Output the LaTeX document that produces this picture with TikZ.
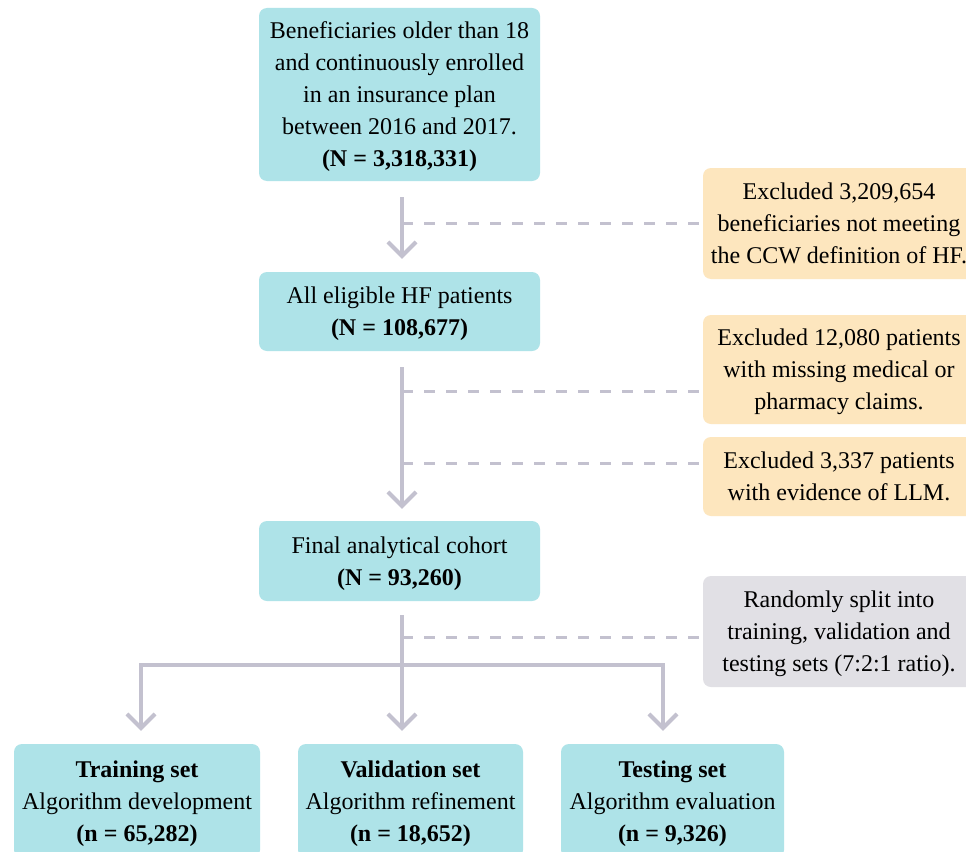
\documentclass[tikz,border=0pt]{standalone}
\usepackage{fontspec}
\setmainfont{Liberation Serif}
\usetikzlibrary{arrows.meta}
\definecolor{teal1}{HTML}{AEE3E8}
\definecolor{orange1}{HTML}{FDE6BE}
\definecolor{gray1}{HTML}{E1E0E5}
\definecolor{line1}{HTML}{C3C1CF}
\begin{document}
\begin{tikzpicture}[x=1pt,y=-1pt,
  box/.style={rounded corners=8pt, align=center, inner sep=0pt, text depth=0pt,
    font=\fontsize{24}{32}\selectfont, text=black},
  mainbox/.style={box, fill=teal1},
  exbox/.style={box, fill=orange1},
  graybox/.style={box, fill=gray1},
  arr/.style={draw=line1, line width=4pt, -{Straight Barb[length=14pt,width=28pt]}},
  solidline/.style={draw=line1, line width=4pt},
  dashline/.style={draw=line1, line width=3pt, dash pattern=on 11pt off 11pt}
]
\useasboundingbox (0,0) rectangle (966,851);
\fill[white] (0,0) rectangle (966,851);

\node[mainbox, minimum width=281pt, minimum height=173pt] (top) at (399.5,94.5)
  {Beneficiaries older than 18\\and continuously enrolled\\in an insurance plan\\between 2016 and 2017.\\\textbf{(N = 3,318,331)}};
\node[exbox, minimum width=272pt, minimum height=111pt] (ex1) at (839,223.5)
  {Excluded 3,209,654\\beneficiaries not meeting\\the CCW definition of HF.};
\node[mainbox, minimum width=281pt, minimum height=79pt] (hf) at (399.5,311.5)
  {All eligible HF patients\\\textbf{(N = 108,677)}};
\node[exbox, minimum width=272pt, minimum height=109pt] (ex2) at (839,369.5)
  {Excluded 12,080 patients\\with missing medical or\\pharmacy claims.};
\node[exbox, minimum width=272pt, minimum height=79pt] (ex3) at (839,476.5)
  {Excluded 3,337 patients\\with evidence of LLM.};
\node[mainbox, minimum width=281pt, minimum height=80pt] (final) at (399.5,561)
  {Final analytical cohort\\\textbf{(N = 93,260)}};
\node[graybox, minimum width=272pt, minimum height=111pt] (split) at (839,631.5)
  {Randomly split into\\training, validation and\\testing sets (7:2:1 ratio).};
\node[mainbox, minimum width=246pt, minimum height=114pt] (train) at (137,801)
  {\textbf{Training set}\\Algorithm development\\\textbf{(n = 65,282)}};
\node[mainbox, minimum width=225pt, minimum height=114pt] (valid) at (410.5,801)
  {\textbf{Validation set}\\Algorithm refinement\\\textbf{(n = 18,652)}};
\node[mainbox, minimum width=223pt, minimum height=114pt] (test) at (672.5,801)
  {\textbf{Testing set}\\Algorithm evaluation\\\textbf{(n = 9,326)}};

\coordinate (v) at (402,0);
% top -> hf
\draw[dashline] (ex1.west -| v) -- (ex1.west);
\draw[arr, shorten <=16pt, shorten >=13pt] (top.south -| v) -- (hf.north -| v);
% hf -> final
\draw[dashline] ([yshift=-21.5pt]ex2.west -| v) -- ([yshift=-21.5pt]ex2.west);
\draw[dashline] ([yshift=13.5pt]ex3.west -| v) -- ([yshift=13.5pt]ex3.west);
\draw[arr, shorten <=16pt, shorten >=12pt] (hf.south -| v) -- (final.north -| v);
% final -> sets
\coordinate (j) at (402,665);
\draw[dashline] ([yshift=-5.5pt]split.west -| v) -- ([yshift=-5.5pt]split.west);
\draw[solidline] (final.south -| v) ++(0,14) -- (j);
\draw[arr, shorten >=13pt] (j) -| ([xshift=4pt]train.north);
\draw[arr, shorten >=13pt] (j) -| ([xshift=-8.5pt]valid.north);
\draw[arr, shorten >=13pt] (j) -| ([xshift=-9.5pt]test.north);
\end{tikzpicture}
\end{document}
